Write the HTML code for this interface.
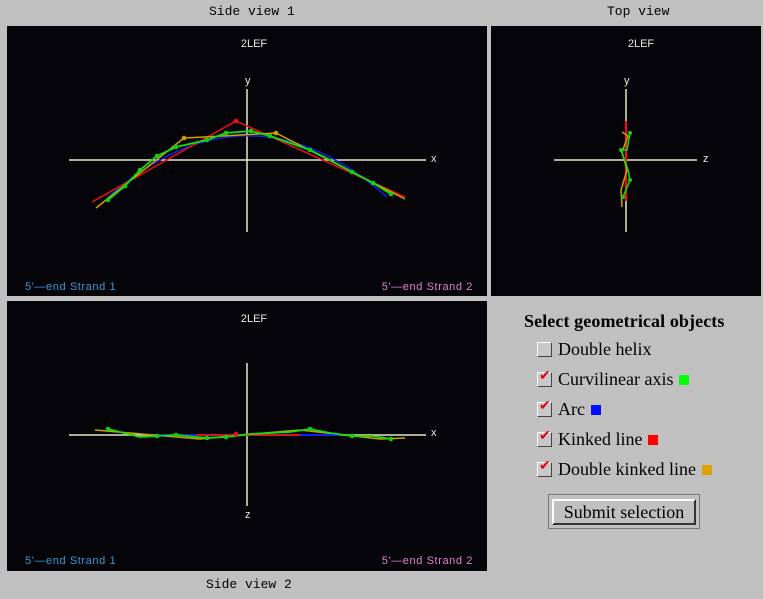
<!DOCTYPE html>
<html><head><meta charset="utf-8">
<style>
body{margin:0;width:763px;height:599px;background:#c0c0c0;position:relative;overflow:hidden;font-family:"Liberation Serif",serif}
.lab{position:absolute;font-family:"Liberation Mono",monospace;font-size:13px;color:#000}
.title{position:absolute;left:524px;top:311px;font-weight:bold;font-size:18px;white-space:nowrap;letter-spacing:0.1px}
.row{position:absolute;left:537px;font-size:18px;white-space:nowrap;display:flex;align-items:center}
.cb{width:13px;height:13px;background:#c8c8c8;border:1px solid;border-color:#fff #444 #444 #fff;margin-right:6px;position:relative}
.cb.on::after{content:"✔";position:absolute;left:1px;top:-5px;color:#e00010;font-size:14px}
.sq{display:inline-block;width:10px;height:10px;margin-left:6px}
.btn{position:absolute;left:548px;top:494px;width:152px;height:35px;border:1px solid #777;box-sizing:border-box}
.btn div{position:absolute;left:3px;top:4px;right:3px;bottom:3px;border:2px solid;border-color:#fff #333 #333 #fff;font-size:18px;text-align:center;line-height:23px}
</style></head><body>
<div class="lab" style="left:209px;top:4px">Side view 1</div>
<div class="lab" style="left:607px;top:4px">Top view</div>
<div class="lab" style="left:206px;top:577px">Side view 2</div>
<svg width="763" height="599" style="position:absolute;left:0;top:0" font-family="Liberation Sans,sans-serif">
<rect x="7" y="26" width="480" height="270" fill="#050509"/>
<rect x="491" y="26" width="270" height="270" fill="#050509"/>
<rect x="7" y="301" width="480" height="270" fill="#050509"/>
<g font-size="11" fill="#e8e8e0" text-anchor="middle">
<text x="254" y="47">2LEF</text><text x="641" y="47">2LEF</text><text x="254" y="322">2LEF</text>
</g>
<g font-size="11" letter-spacing="0.6">
<text x="25" y="290" fill="#3a9ad8">5'—end  Strand  1</text>
<text x="473" y="290" fill="#e080d0" text-anchor="end">5'—end  Strand  2</text>
<text x="25" y="564" fill="#3a9ad8">5'—end  Strand  1</text>
<text x="473" y="564" fill="#e080d0" text-anchor="end">5'—end  Strand  2</text>
</g>
<g stroke="#e8e4c8" stroke-width="1.5">
<line x1="69" y1="160" x2="426" y2="160"/><line x1="247" y1="89" x2="247" y2="232"/>
<line x1="554" y1="160" x2="697" y2="160"/><line x1="626" y1="89" x2="626" y2="232"/>
<line x1="69" y1="435" x2="426" y2="435"/><line x1="247" y1="363" x2="247" y2="506"/>
</g>
<g font-size="11" fill="#e8e8e0">
<text x="245" y="84">y</text><text x="431" y="162">x</text>
<text x="624" y="84">y</text><text x="703" y="162">z</text>
<text x="431" y="436">x</text><text x="245" y="518">z</text>
</g>
<path d="M107,198 Q247,74 387,197" fill="none" stroke="#1020f0" stroke-width="1.5"/>
<polyline points="92,202 236,121 405,197" fill="none" stroke="#f01010" stroke-width="1.5"/>
<polyline points="96,208 184,138 205,137 276,133 405,199" fill="none" stroke="#d0a000" stroke-width="1.5"/>
<polyline points="108,200 125,186 140,170 157,156 176,147 207,140 226,133 251,131 270,136 290,143 310,150 330,160 352,172 373,183 391,194" fill="none" stroke="#10e010" stroke-width="1.8"/>
<g fill="#10d010"><circle cx="108" cy="200" r="2.3"/><circle cx="125" cy="186" r="2.3"/><circle cx="140" cy="170" r="2.3"/><circle cx="157" cy="156" r="2.3"/><circle cx="176" cy="147" r="2.3"/><circle cx="207" cy="140" r="2.3"/><circle cx="226" cy="133" r="2.3"/><circle cx="251" cy="131" r="2.3"/><circle cx="270" cy="136" r="2.3"/><circle cx="310" cy="150" r="2.3"/><circle cx="352" cy="172" r="2.3"/><circle cx="373" cy="183" r="2.3"/><circle cx="391" cy="194" r="2.3"/></g>
<circle cx="236" cy="121" r="2.3" fill="#f01010"/><circle cx="184" cy="138" r="2.3" fill="#d0a000"/><circle cx="276" cy="133" r="2.3" fill="#d0a000"/>
<line x1="626" y1="121" x2="626" y2="200" stroke="#1020f0" stroke-width="1.5"/>
<line x1="626" y1="121" x2="626" y2="201" stroke="#f01010" stroke-width="2.2"/>
<polyline points="622,132 628,136 622,152 627,170 621,190 622,207" fill="none" stroke="#d0a000" stroke-width="1.5"/>
<polyline points="630,133 627,150 621,150 628,170 630,180 623,197" fill="none" stroke="#10e010" stroke-width="1.5"/>
<g fill="#10d010"><circle cx="630" cy="133" r="2"/><circle cx="621" cy="150" r="2"/><circle cx="630" cy="180" r="2"/><circle cx="623" cy="197" r="2"/></g>
<polyline points="95,430 130,433 200,439 240,435 265,433 300,430 380,439 405,438" fill="none" stroke="#d0a000" stroke-width="1.5"/>
<line x1="156" y1="435" x2="340" y2="435" stroke="#1020f0" stroke-width="2"/>
<line x1="196" y1="435" x2="300" y2="435" stroke="#f01010" stroke-width="1.7"/>
<polyline points="108,429 140,437 157,436 176,435 207,438 226,437 251,434 270,433 290,432 310,429 330,433 352,436 373,436 391,439" fill="none" stroke="#10e010" stroke-width="1.8"/>
<g fill="#10d010"><circle cx="108" cy="429" r="2.3"/><circle cx="157" cy="436" r="2.3"/><circle cx="176" cy="435" r="2.3"/><circle cx="207" cy="438" r="2.3"/><circle cx="226" cy="437" r="2.3"/><circle cx="310" cy="429" r="2.3"/><circle cx="352" cy="436" r="2.3"/><circle cx="391" cy="439" r="2.3"/></g>
<circle cx="236" cy="434" r="2.3" fill="#f01010"/>
</svg>
<div class="title">Select geometrical objects</div>
<div class="row" style="top:339px"><span class="cb"></span>Double helix</div>
<div class="row" style="top:369px"><span class="cb on"></span>Curvilinear axis<span class="sq" style="background:#00ff00"></span></div>
<div class="row" style="top:399px"><span class="cb on"></span>Arc<span class="sq" style="background:#0010ff"></span></div>
<div class="row" style="top:429px"><span class="cb on"></span>Kinked line<span class="sq" style="background:#ff0000"></span></div>
<div class="row" style="top:459px"><span class="cb on"></span>Double kinked line<span class="sq" style="background:#e0a000"></span></div>
<div class="btn"><div>Submit selection</div></div>
</body></html>
